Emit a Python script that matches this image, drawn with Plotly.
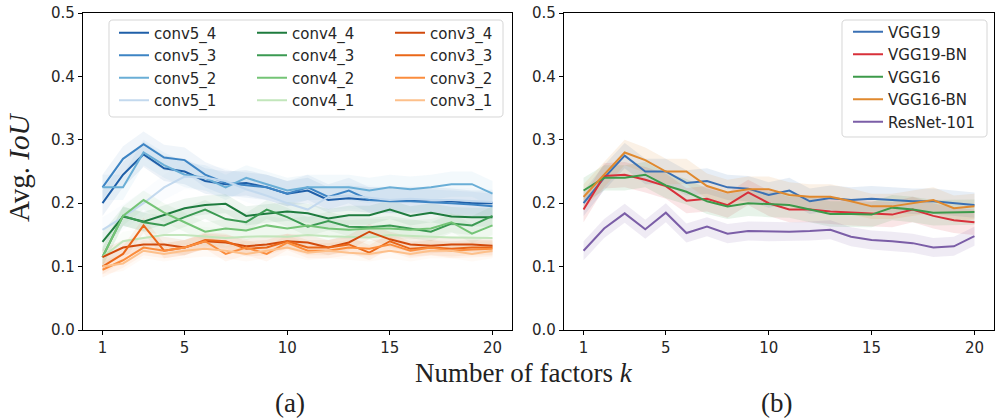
import plotly.graph_objects as go

k = list(range(1, 21))

# ---- panel (a): layer-wise curves ----
conv5_4 = [0.200, 0.245, 0.277, 0.255, 0.250, 0.235, 0.230, 0.232, 0.225, 0.215, 0.220, 0.205, 0.208, 0.205, 0.205, 0.205, 0.205, 0.203, 0.200, 0.200]
conv5_3 = [0.225, 0.270, 0.293, 0.272, 0.268, 0.245, 0.232, 0.228, 0.225, 0.215, 0.225, 0.210, 0.220, 0.205, 0.203, 0.203, 0.202, 0.200, 0.198, 0.195]
conv5_2 = [0.225, 0.225, 0.280, 0.260, 0.245, 0.240, 0.225, 0.240, 0.230, 0.220, 0.225, 0.225, 0.225, 0.220, 0.225, 0.222, 0.225, 0.230, 0.230, 0.215]
conv5_1 = [0.158, 0.178, 0.200, 0.225, 0.242, 0.240, 0.235, 0.222, 0.212, 0.200, 0.190, 0.210, 0.212, 0.208, 0.205, 0.207, 0.205, 0.205, 0.203, 0.202]
conv4_4 = [0.139, 0.179, 0.171, 0.181, 0.192, 0.197, 0.199, 0.180, 0.184, 0.187, 0.184, 0.176, 0.181, 0.181, 0.190, 0.180, 0.185, 0.179, 0.178, 0.178]
conv4_3 = [0.115, 0.180, 0.170, 0.165, 0.178, 0.190, 0.175, 0.170, 0.190, 0.178, 0.163, 0.172, 0.163, 0.162, 0.165, 0.160, 0.155, 0.168, 0.165, 0.180]
conv4_2 = [0.115, 0.180, 0.205, 0.185, 0.170, 0.155, 0.160, 0.157, 0.165, 0.160, 0.165, 0.160, 0.158, 0.160, 0.160, 0.158, 0.160, 0.170, 0.152, 0.165]
conv4_1 = [0.115, 0.140, 0.145, 0.150, 0.150, 0.148, 0.145, 0.147, 0.148, 0.147, 0.150, 0.148, 0.147, 0.146, 0.150, 0.148, 0.147, 0.146, 0.145, 0.145]
conv3_4 = [0.115, 0.130, 0.135, 0.135, 0.130, 0.140, 0.138, 0.132, 0.135, 0.140, 0.138, 0.130, 0.138, 0.155, 0.143, 0.135, 0.133, 0.135, 0.135, 0.133]
conv3_3 = [0.100, 0.120, 0.165, 0.125, 0.130, 0.142, 0.140, 0.128, 0.130, 0.140, 0.130, 0.130, 0.135, 0.122, 0.140, 0.128, 0.130, 0.128, 0.130, 0.130]
conv3_2 = [0.095, 0.110, 0.130, 0.125, 0.130, 0.140, 0.120, 0.130, 0.120, 0.138, 0.125, 0.125, 0.130, 0.128, 0.135, 0.125, 0.130, 0.125, 0.127, 0.128]
conv3_1 = [0.100, 0.105, 0.125, 0.120, 0.125, 0.128, 0.125, 0.120, 0.125, 0.130, 0.122, 0.125, 0.122, 0.120, 0.125, 0.120, 0.125, 0.125, 0.120, 0.125]

# legend columns of panel (a)
col_blue_names = ["conv5_4", "conv5_3", "conv5_2", "conv5_1"]
col_green_names = ["conv4_4", "conv4_3", "conv4_2", "conv4_1"]
col_orange_names = ["conv3_4", "conv3_3", "conv3_2", "conv3_1"]
col_blue_vals = [conv5_4, conv5_3, conv5_2, conv5_1]
col_green_vals = [conv4_4, conv4_3, conv4_2, conv4_1]
col_orange_vals = [conv3_4, conv3_3, conv3_2, conv3_1]
col_blue_colors = ["#1f5fa8", "#3d84c4", "#6aaed6", "#c3d9ee"]
col_green_colors = ["#1e7b3e", "#3b9a52", "#74c476", "#c2e6bb"]
col_orange_colors = ["#d14a0c", "#ea6718", "#fb8d3d", "#fdc08b"]
group_spread = [0.02, 0.015, 0.012]

# ---- panel (b): architectures ----
vgg19    = [0.200, 0.240, 0.275, 0.250, 0.250, 0.232, 0.235, 0.225, 0.223, 0.213, 0.220, 0.203, 0.208, 0.205, 0.207, 0.205, 0.203, 0.203, 0.200, 0.197]
vgg19_bn = [0.190, 0.243, 0.245, 0.237, 0.227, 0.204, 0.207, 0.197, 0.217, 0.200, 0.190, 0.190, 0.187, 0.185, 0.183, 0.182, 0.190, 0.180, 0.173, 0.170]
vgg16    = [0.220, 0.240, 0.240, 0.245, 0.228, 0.218, 0.203, 0.195, 0.200, 0.198, 0.197, 0.190, 0.183, 0.183, 0.182, 0.193, 0.190, 0.185, 0.186, 0.186]
vgg16_bn = [0.210, 0.245, 0.280, 0.268, 0.250, 0.250, 0.227, 0.217, 0.222, 0.222, 0.213, 0.210, 0.210, 0.203, 0.195, 0.195, 0.200, 0.205, 0.192, 0.195]
resnet101 = [0.125, 0.160, 0.184, 0.159, 0.185, 0.153, 0.163, 0.152, 0.156, 0.155, 0.155, 0.156, 0.158, 0.147, 0.142, 0.140, 0.137, 0.130, 0.132, 0.148]

model_names = ["VGG19", "VGG19-BN", "VGG16", "VGG16-BN", "ResNet-101"]
model_values = [vgg19, vgg19_bn, vgg16, vgg16_bn, resnet101]
model_spread = [0.02, 0.02, 0.02, 0.02, 0.015]
model_colors = ["#3a70b4", "#d8303a", "#3c9a4a", "#e0892e", "#7b5ea7"]

y_ticks = [0.0, 0.1, 0.2, 0.3, 0.4, 0.5]
x_ticks = [1, 5, 10, 15, 20]


def rgba(hex_color, a):
    h = hex_color.lstrip("#")
    r, g, b = int(h[0:2], 16), int(h[2:4], 16), int(h[4:6], 16)
    return f"rgba({r},{g},{b},{a})"


fig = go.Figure()

groups = [
    (col_blue_names, col_blue_vals, col_blue_colors, group_spread[0], "legend"),
    (col_green_names, col_green_vals, col_green_colors, group_spread[1], "legend2"),
    (col_orange_names, col_orange_vals, col_orange_colors, group_spread[2], "legend3"),
]

# bands first
for names, vals_list, cols, sp, _ in groups:
    for vals, col in zip(vals_list, cols):
        up = [v + sp for v in vals]
        lo = [v - sp for v in vals]
        fig.add_trace(go.Scatter(x=k + k[::-1], y=up + lo[::-1], fill="toself",
                                 fillcolor=rgba(col, 0.08), line=dict(width=0),
                                 hoverinfo="skip", showlegend=False,
                                 xaxis="x", yaxis="y"))
for vals, sp, col in zip(model_values, model_spread, model_colors):
    up = [v + sp for v in vals]
    lo = [v - sp for v in vals]
    fig.add_trace(go.Scatter(x=k + k[::-1], y=up + lo[::-1], fill="toself",
                             fillcolor=rgba(col, 0.12), line=dict(width=0),
                             hoverinfo="skip", showlegend=False,
                             xaxis="x2", yaxis="y2"))

for names, vals_list, cols, sp, leg in groups:
    for name, vals, col in zip(names, vals_list, cols):
        fig.add_trace(go.Scatter(x=k, y=vals, mode="lines", name=name,
                                 line=dict(color=col, width=2),
                                 xaxis="x", yaxis="y", legend=leg))
for name, vals, col in zip(model_names, model_values, model_colors):
    fig.add_trace(go.Scatter(x=k, y=vals, mode="lines", name=name,
                             line=dict(color=col, width=2),
                             xaxis="x2", yaxis="y2", legend="legend4"))

W, H = 1003, 418
ydom = [(H - 330) / H, (H - 13) / H]
tickfont = dict(family="DejaVu Sans", size=15, color="#262626")
axis_common = dict(showline=True, linecolor="black", linewidth=1.2, mirror=True,
                   ticks="outside", ticklen=4, tickcolor="black", tickwidth=1,
                   showgrid=False, zeroline=False, tickfont=tickfont, automargin=False)

legfont = dict(family="DejaVu Sans", size=15, color="#262626")


def leg(xpix, ytop):
    return dict(x=xpix / W, y=(H - ytop) / H, xanchor="left", yanchor="top",
                orientation="v", bgcolor="rgba(0,0,0,0)", borderwidth=0,
                font=legfont, itemwidth=30, tracegroupgap=0)


fig.update_layout(
    width=W, height=H,
    margin=dict(l=0, r=0, t=0, b=0, pad=0),
    paper_bgcolor="white", plot_bgcolor="white",
    xaxis=dict(domain=[83 / W, 512 / W], range=[0.05, 20.95], tickvals=x_ticks,
               anchor="y", **axis_common),
    yaxis=dict(domain=ydom, range=[0, 0.5], tickvals=y_ticks,
               tickformat=".1f", anchor="x", **axis_common),
    xaxis2=dict(domain=[564 / W, 994 / W], range=[0.05, 20.95], tickvals=x_ticks,
                anchor="y2", **axis_common),
    yaxis2=dict(domain=ydom, range=[0, 0.5], tickvals=y_ticks,
                tickformat=".1f", anchor="x2", **axis_common),
    legend=leg(114, 16.5),
    legend2=leg(252, 16.5),
    legend3=leg(390, 16.5),
    legend4=leg(848, 15.5),
    showlegend=True,
)


def rounded_box(x0, y0, x1, y1, r=4):
    # pixel coords (top-left origin) -> paper path with rounded corners
    def P(x, y):
        return f"{x / W:.5f},{(H - y) / H:.5f}"
    return (f"M{P(x0 + r, y0)} L{P(x1 - r, y0)} Q{P(x1, y0)} {P(x1, y0 + r)} "
            f"L{P(x1, y1 - r)} Q{P(x1, y1)} {P(x1 - r, y1)} "
            f"L{P(x0 + r, y1)} Q{P(x0, y1)} {P(x0, y1 - r)} "
            f"L{P(x0, y0 + r)} Q{P(x0, y0)} {P(x0 + r, y0)} Z")


for box in [(109, 20, 503, 117), (842, 20, 987, 137)]:
    fig.add_shape(type="path", path=rounded_box(*box), xref="paper", yref="paper",
                  fillcolor="rgba(255,255,255,0.85)", line=dict(color="#d6d6d6", width=1),
                  layer="above")

serif = "Liberation Serif"
ann = dict(xref="paper", yref="paper", showarrow=False, xanchor="center", yanchor="middle")
fig.add_annotation(text="Avg. <i>IoU</i>", x=19 / W, y=(H - 168) / H, textangle=-90,
                   font=dict(family=serif, size=29, color="#222"), **ann)
fig.add_annotation(text="Number of factors <i>k</i>", x=524 / W, y=(H - 373) / H,
                   font=dict(family=serif, size=27, color="#222"), **ann)
fig.add_annotation(text="(a)", x=290 / W, y=(H - 403) / H,
                   font=dict(family=serif, size=27, color="#222"), **ann)
fig.add_annotation(text="(b)", x=776 / W, y=(H - 403) / H,
                   font=dict(family=serif, size=27, color="#222"), **ann)

fig.write_html("out.html")
